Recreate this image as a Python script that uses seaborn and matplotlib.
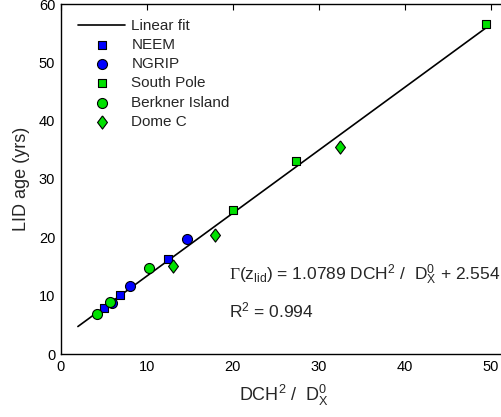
import numpy as np
import pandas as pd
import matplotlib
matplotlib.use("Agg")
import matplotlib.pyplot as plt
import seaborn as sns

# Observations: DCH^2 / D_X^0 versus LID age (years), per ice core site
neem_x = [5.03, 6.90, 12.48]
neem_y = [7.95, 10.10, 16.30]

ngrip_x = [5.97, 8.06, 14.65]
ngrip_y = [8.69, 11.60, 19.67]

south_pole_x = [20.05, 27.36, 49.45]
south_pole_y = [24.75, 33.16, 56.55]

berkner_x = [4.19, 5.73, 10.30]
berkner_y = [6.81, 8.97, 14.70]

dome_c_x = [13.06, 17.94, 32.44]
dome_c_y = [15.10, 20.40, 35.56]

# Linear fit coefficients and its drawn range
fit_slope = 1.0789
fit_intercept = 2.554
fit_r2 = 0.994
fit_x_range = [2.0, 49.45]

x_ticks = [0, 10, 20, 30, 40, 50]
y_ticks = [0, 10, 20, 30, 40, 50, 60]

sns.set_theme(style="white")
plt.rcParams["font.family"] = ["Liberation Sans", "DejaVu Sans"]
plt.rcParams["mathtext.fontset"] = "custom"
plt.rcParams["mathtext.rm"] = "Liberation Sans"
plt.rcParams["mathtext.it"] = "Liberation Sans"
plt.rcParams["mathtext.sf"] = "Liberation Serif"

BLUE = "#0000FF"
GREEN = "#00E100"
tall_diamond = [(0, 1), (0.75, 0), (0, -1), (-0.75, 0), (0, 1)]

fig = plt.figure(figsize=(5.01, 4.17), dpi=100)
ax = fig.add_axes([60.7 / 501, 63 / 417, 447.2 / 501, 350 / 417])

fit_df = pd.DataFrame({"x": fit_x_range})
fit_df["y"] = fit_slope * fit_df["x"] + fit_intercept
sns.lineplot(data=fit_df, x="x", y="y", ax=ax, color="black", lw=1.2,
             label="Linear fit", zorder=2)

series = [
    ("NEEM", neem_x, neem_y, "s", BLUE, 6.3),
    ("NGRIP", ngrip_x, ngrip_y, "o", BLUE, 7.2),
    ("South Pole", south_pole_x, south_pole_y, "s", GREEN, 6.3),
    ("Berkner Island", berkner_x, berkner_y, "o", GREEN, 7.2),
    ("Dome C", dome_c_x, dome_c_y, tall_diamond, GREEN, 9.5),
]
for name, xs, ys, mk, col, ms in series:
    df = pd.DataFrame({"x": xs, "y": ys})
    sns.scatterplot(data=df, x="x", y="y", ax=ax, marker=mk, color=col,
                    s=ms ** 2, edgecolor="black", linewidth=0.8,
                    label=name, zorder=3)

ax.set_xlim(0, 52)
ax.set_ylim(0, 60)
ax.set_xticks(x_ticks)
ax.set_yticks(y_ticks)
ax.tick_params(direction="in", length=4, width=0.8, top=True, right=True,
               labelsize=10.5, pad=4, colors="black")
for sp in ax.spines.values():
    sp.set_color("black")
    sp.set_linewidth(1.0)

ax.set_xlabel(r"DCH$^2$ /  D$_\mathrm{X}^0$", fontsize=13, labelpad=7)
ax.set_ylabel("LID age (yrs)", fontsize=13, labelpad=6)

ax.text(19.6, 13.6,
        r"$\mathsf{\Gamma}$(z$_\mathrm{lid}$) = %.4f DCH$^2$ /  D$_\mathrm{X}^0$ + %.3f"
        % (fit_slope, fit_intercept),
        fontsize=12.5, ha="left", va="center")
ax.text(19.6, 7.5, r"R$^2$ = %.3f" % fit_r2, fontsize=12.5, ha="left", va="center")

leg = ax.legend(loc="upper left", frameon=False, fontsize=11,
                handlelength=3.1, handletextpad=0.4, labelspacing=0.34,
                bbox_to_anchor=(0.025, 0.975), borderaxespad=0)

fig.savefig("out.png", dpi=100)
